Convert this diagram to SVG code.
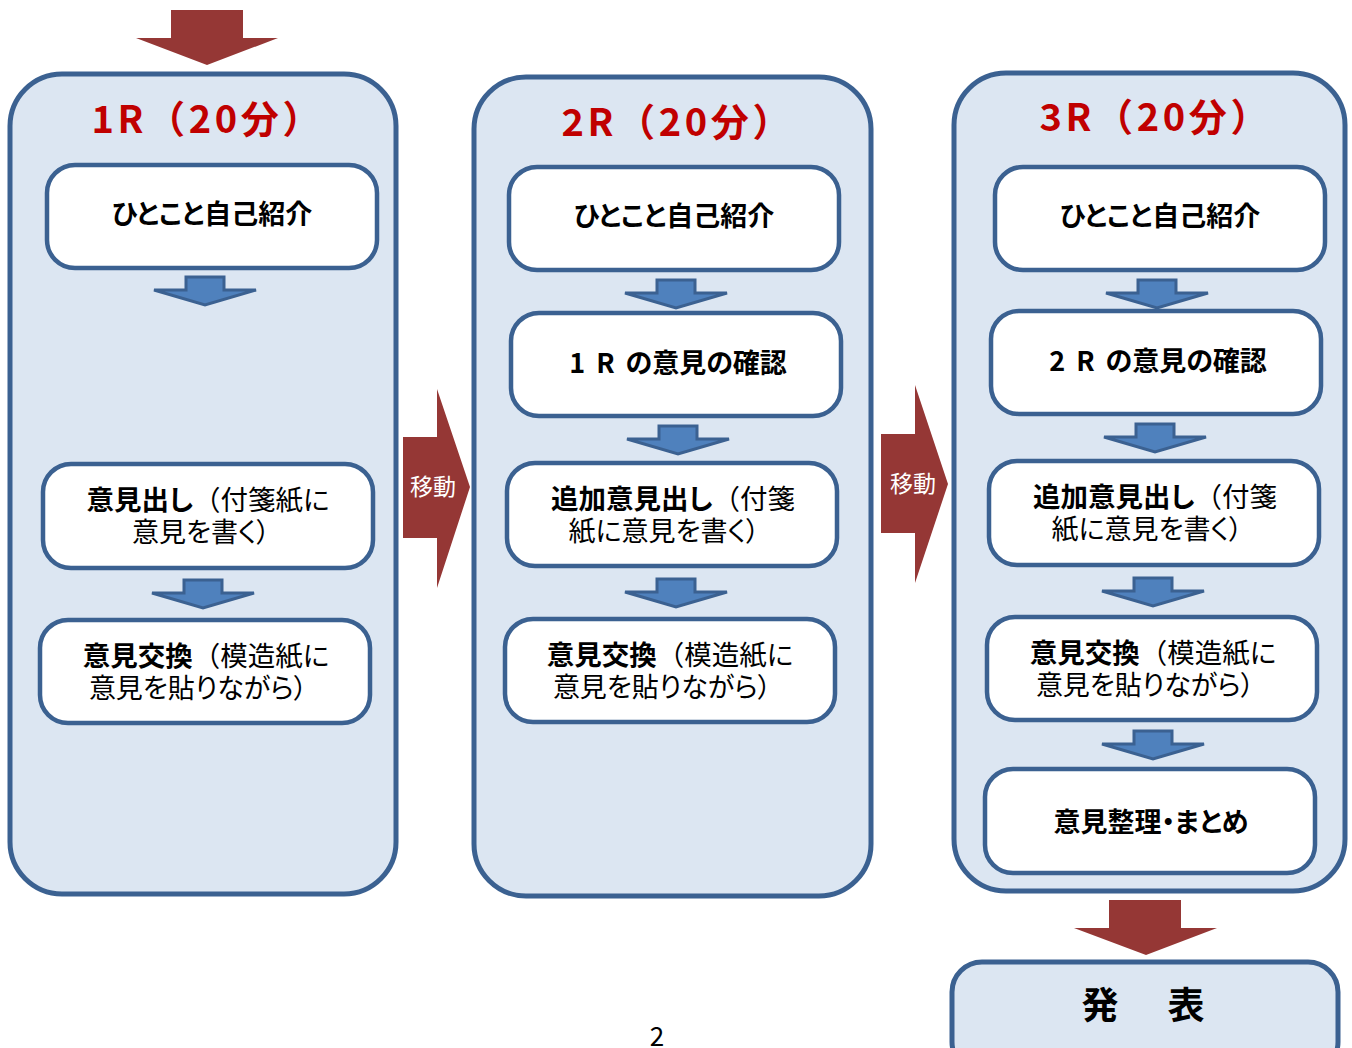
<svg xmlns="http://www.w3.org/2000/svg" width="1352" height="1048" viewBox="0 0 1352 1048">
<style>
.panel{fill:#dce6f2;stroke:#3b6191;stroke-width:5}
.box{fill:#ffffff;stroke:#3b6191;stroke-width:4.5}
.big{fill:#953735}
.sm{fill:#4f81bd;stroke:#3b6191;stroke-width:3;stroke-linejoin:miter}
.t{font-family:"Noto Sans CJK JP","Noto Sans",sans-serif;fill:#000;text-anchor:middle;font-feature-settings:"palt"}
.b{font-weight:bold}
.fw{font-feature-settings:normal}
.title{font-family:"Noto Sans CJK JP","Noto Sans",sans-serif;font-weight:bold;font-size:38px;fill:#c00000;text-anchor:middle}
.mv{font-family:"Noto Sans CJK JP","Noto Sans",sans-serif;font-size:23px;fill:#ffffff;text-anchor:middle}
</style>
<rect width="1352" height="1048" fill="#ffffff"/>
<g id="connectors">
<polygon class="big" points="171,10 243,10 243,38 278,38 207,65 136,38 171,38"/>
<polygon class="big" points="1109,900 1181,900 1181,928 1217,928 1146,955 1074,928 1109,928"/>
</g>
<g id="panel1">
<rect class="panel" x="10" y="74" width="386" height="820" rx="52"/>
<text class="title" x="206" y="133" textLength="229" lengthAdjust="spacing">1R（20分）</text>
</g>
<g id="panel2">
<rect class="panel" x="474" y="77" width="397" height="819" rx="52"/>
<text class="title" x="676" y="136" textLength="229" lengthAdjust="spacing">2R（20分）</text>
</g>
<g id="panel3">
<rect class="panel" x="954" y="73" width="391" height="818" rx="52"/>
<text class="title" x="1154" y="131" textLength="229" lengthAdjust="spacing">3R（20分）</text>
</g>
<g id="move1">
<polygon class="big" points="403,437 437,437 437,389 470,487 437,588 437,538 403,538"/>
<text class="mv" x="433" y="495">移動</text>
</g>
<g id="move2">
<polygon class="big" points="881,434 915,434 915,385 948,484 915,583 915,533 881,533"/>
<text class="mv" x="913" y="492">移動</text>
</g>
<g id="small-arrows">
<polygon class="sm" points="186,277 224,277 224,290 256,290 205,305 154,290 186,290"/>
<polygon class="sm" points="184,580 222,580 222,593 254,593 203,608 152,593 184,593"/>
<polygon class="sm" points="657,280 695,280 695,293 727,293 676,308 625,293 657,293"/>
<polygon class="sm" points="659,426 697,426 697,439 729,439 678,454 627,439 659,439"/>
<polygon class="sm" points="657,579 695,579 695,592 727,592 676,607 625,592 657,592"/>
<polygon class="sm" points="1138,280 1176,280 1176,293 1208,293 1157,308 1106,293 1138,293"/>
<polygon class="sm" points="1136,424 1174,424 1174,437 1206,437 1155,452 1104,437 1136,437"/>
<polygon class="sm" points="1134,578 1172,578 1172,591 1204,591 1153,606 1102,591 1134,591"/>
<polygon class="sm" points="1134,731 1172,731 1172,744 1204,744 1153,759 1102,744 1134,744"/>
</g>
<g id="p1-intro">
<rect class="box" x="47" y="165" width="330" height="103" rx="28"/>
<text class="t b" x="212" y="224" font-size="27">ひとこと自己紹介</text>
</g>
<g id="p1-write">
<rect class="box" x="43" y="464" width="330" height="104" rx="28"/>
<text class="t" x="208" y="510" font-size="27.5"><tspan class="b">意見出し</tspan><tspan class="fw">（</tspan>付箋紙に</text>
<text class="t" x="201" y="542" font-size="27">意見を書く）</text>
</g>
<g id="p1-exchange">
<rect class="box" x="40" y="620" width="330" height="103" rx="28"/>
<text class="t" x="206" y="666" font-size="27.5"><tspan class="b">意見交換</tspan><tspan class="fw">（</tspan>模造紙に</text>
<text class="t" x="198" y="698" font-size="27">意見を貼りながら）</text>
</g>
<g id="p2-intro">
<rect class="box" x="509" y="167" width="330" height="103" rx="28"/>
<text class="t b" x="674" y="226" font-size="27">ひとこと自己紹介</text>
</g>
<g id="p2-confirm">
<rect class="box" x="511" y="313" width="330" height="103" rx="28"/>
<text class="t b" x="678" y="373" font-size="27">1<tspan dx="11">R</tspan><tspan dx="11">の意見の確認</tspan></text>
</g>
<g id="p2-write">
<rect class="box" x="507" y="463" width="330" height="103" rx="28"/>
<text class="t" x="673" y="509" font-size="27.5"><tspan class="b">追加意見出し</tspan><tspan class="fw">（</tspan>付箋</text>
<text class="t" x="664" y="541" font-size="27">紙に意見を書く）</text>
</g>
<g id="p2-exchange">
<rect class="box" x="505" y="619" width="330" height="103" rx="28"/>
<text class="t" x="670" y="665" font-size="27.5"><tspan class="b">意見交換</tspan><tspan class="fw">（</tspan>模造紙に</text>
<text class="t" x="662" y="697" font-size="27">意見を貼りながら）</text>
</g>
<g id="p3-intro">
<rect class="box" x="995" y="167" width="330" height="103" rx="28"/>
<text class="t b" x="1160" y="226" font-size="27">ひとこと自己紹介</text>
</g>
<g id="p3-confirm">
<rect class="box" x="991" y="311" width="330" height="103" rx="28"/>
<text class="t b" x="1158" y="371" font-size="27">2<tspan dx="11">R</tspan><tspan dx="11">の意見の確認</tspan></text>
</g>
<g id="p3-write">
<rect class="box" x="989" y="461" width="330" height="104" rx="28"/>
<text class="t" x="1155" y="507" font-size="27.5"><tspan class="b">追加意見出し</tspan><tspan class="fw">（</tspan>付箋</text>
<text class="t" x="1147" y="539" font-size="27">紙に意見を書く）</text>
</g>
<g id="p3-exchange">
<rect class="box" x="987" y="617" width="330" height="103" rx="28"/>
<text class="t" x="1153" y="663" font-size="27.5"><tspan class="b">意見交換</tspan><tspan class="fw">（</tspan>模造紙に</text>
<text class="t" x="1145" y="695" font-size="27">意見を貼りながら）</text>
</g>
<g id="p3-summary">
<rect class="box" x="985" y="769" width="330" height="104" rx="28"/>
<text class="t b" x="1151" y="832" font-size="27">意見整理・まとめ</text>
</g>
<g id="presentation">
<rect class="panel" x="952" y="962" width="386" height="110" rx="30"/>
<text class="t b fw" x="1146" y="1019" font-size="37" letter-spacing="6">発　表</text>
</g>
<text class="t" x="657" y="1046" font-size="26" font-family="Liberation Sans">2</text>
</svg>
